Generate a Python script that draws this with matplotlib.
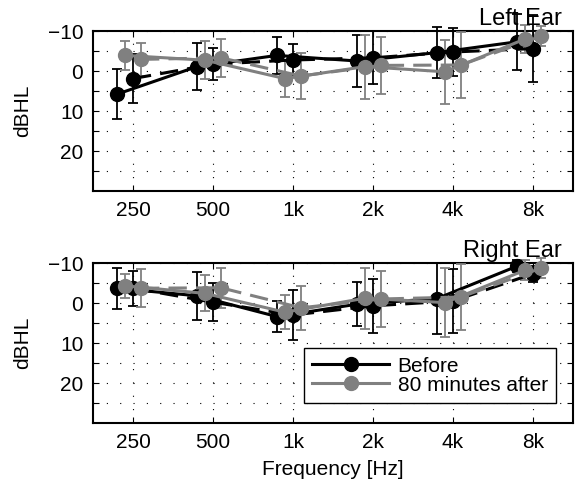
import numpy as np
import matplotlib
matplotlib.use("Agg")
import matplotlib.pyplot as plt
from matplotlib.ticker import FixedLocator, FixedFormatter, NullLocator
from matplotlib.lines import Line2D

plt.rcParams['font.family'] = ['Liberation Sans', 'DejaVu Sans']

freqs = [250, 500, 1000, 2000, 4000, 8000]
xtick_labels = ['250', '500', '1k', '2k', '4k', '8k']

# Left ear
left_before_a = [5.8, -1.1, -3.9, -2.5, -4.6, -7.3]
left_before_a_err = [6.2, 5.8, 4.7, 6.5, 6.4, 7.0]
left_before_b = [1.9, -1.7, -2.75, -3.3, -4.75, -5.6]
left_before_b_err = [6.2, 4.0, 3.9, 6.6, 6.0, 8.3]
left_after_a = [-3.9, -2.7, 1.9, -1.1, 0.2, -8.0]
left_after_a_err = [3.6, 4.8, 4.5, 8.0, 8.0, 3.5]
left_after_b = [-2.9, -3.3, 1.25, -1.4, -1.5, -8.7]
left_after_b_err = [4.2, 4.7, 5.7, 7.2, 8.3, 2.5]

# Right ear
right_before_a = [-3.7, -1.8, 3.4, 0.3, -1.1, -9.2]
right_before_a_err = [5.1, 6.0, 3.9, 5.5, 8.9, 1.5]
right_before_b = [-3.7, -0.2, 3.0, 0.7, -0.5, -7.3]
right_before_b_err = [4.4, 4.8, 6.2, 6.8, 8.0, 2.0]
right_after_a = [-4.3, -2.4, 2.3, -1.2, -0.1, -8.2]
right_after_a_err = [3.0, 4.5, 4.3, 7.6, 8.7, 2.5]
right_after_b = [-3.7, -3.8, 1.2, -1.0, -1.5, -8.7]
right_after_b_err = [4.8, 5.0, 5.5, 7.0, 8.3, 2.5]

legend_labels = ['Before', '80 minutes after']

offsets = [2 ** -0.2, 2 ** -0.1, 1.0, 2 ** 0.1]
BLACK = 'black'
GRAY = '#808080'

fig = plt.figure(figsize=(5.79, 4.9), dpi=100)
ax1 = fig.add_axes([93 / 579, 1 - 191 / 490, 480 / 579, 160 / 490])
ax2 = fig.add_axes([93 / 579, 1 - 423 / 490, 480 / 579, 160 / 490])

FS = 15
TFS = 17


def draw(ax, series):
    for (vals, errs, color, ls, off) in series:
        x = np.array(freqs) * off
        eb = ax.errorbar(x, vals, yerr=errs, color=color, ecolor=color,
                         linestyle=ls, linewidth=2.2, marker='o', markersize=10,
                         markeredgecolor=color, markerfacecolor=color,
                         elinewidth=1.3, capsize=3.5, capthick=1.3,
                         clip_on=False, zorder=3,
                         dashes=(6, 3) if ls == '--' else (None, None))
        for art in eb.lines[1] + eb.lines[2]:
            art.set_clip_on(False)


def style(ax, title):
    ax.set_xscale('log')
    ax.set_xlim(250 / np.sqrt(2), 8000 * np.sqrt(2))
    ax.set_ylim(30, -10)
    ax.xaxis.set_major_locator(FixedLocator(freqs))
    ax.xaxis.set_major_formatter(FixedFormatter(xtick_labels))
    ax.xaxis.set_minor_locator(NullLocator())
    yt = [-10, -5, 0, 5, 10, 15, 20, 25]
    ax.yaxis.set_major_locator(FixedLocator(yt))
    ax.yaxis.set_major_formatter(FixedFormatter(['\u221210', '', '0', '', '10', '', '20', '']))
    ax.tick_params(direction='in', top=True, right=True, length=4, width=0.8,
                   labelsize=FS, pad=7)
    ax.grid(True, which='major', color='black', linestyle=(0, (1, 11)), linewidth=0.8)
    for s in ax.spines.values():
        s.set_linewidth(1.5)
    ax.set_ylabel('dBHL', fontsize=FS, labelpad=11)
    ax.text(1 - 11 / 480, 1 + 6 / 160, title, transform=ax.transAxes,
            ha='right', va='baseline', fontsize=TFS)


draw(ax1, [
    (left_before_a, left_before_a_err, BLACK, '-', offsets[0]),
    (left_before_b, left_before_b_err, BLACK, '--', offsets[2]),
    (left_after_a, left_after_a_err, GRAY, '-', offsets[1]),
    (left_after_b, left_after_b_err, GRAY, '--', offsets[3]),
])
style(ax1, 'Left Ear')

draw(ax2, [
    (right_before_a, right_before_a_err, BLACK, '-', offsets[0]),
    (right_before_b, right_before_b_err, BLACK, '--', offsets[2]),
    (right_after_a, right_after_a_err, GRAY, '-', offsets[1]),
    (right_after_b, right_after_b_err, GRAY, '--', offsets[3]),
])
style(ax2, 'Right Ear')
ax2.set_xlabel('Frequency [Hz]', fontsize=FS, labelpad=6)

leg_handles = [
    Line2D([], [], color=BLACK, linewidth=2.2, marker='o', markersize=10),
    Line2D([], [], color=GRAY, linewidth=2.2, marker='o', markersize=10),
]
leg = ax2.legend(leg_handles, legend_labels, loc='lower right',
                 bbox_to_anchor=(1 - 17 / 480, 20 / 160), fontsize=FS,
                 handlelength=3.7, frameon=True, fancybox=False, framealpha=1,
                 borderpad=0.4, labelspacing=0.0, handletextpad=0.4,
                 borderaxespad=0)
leg.get_frame().set_edgecolor('black')
leg.get_frame().set_linewidth(1.0)

fig.savefig('out.png', dpi=100)
